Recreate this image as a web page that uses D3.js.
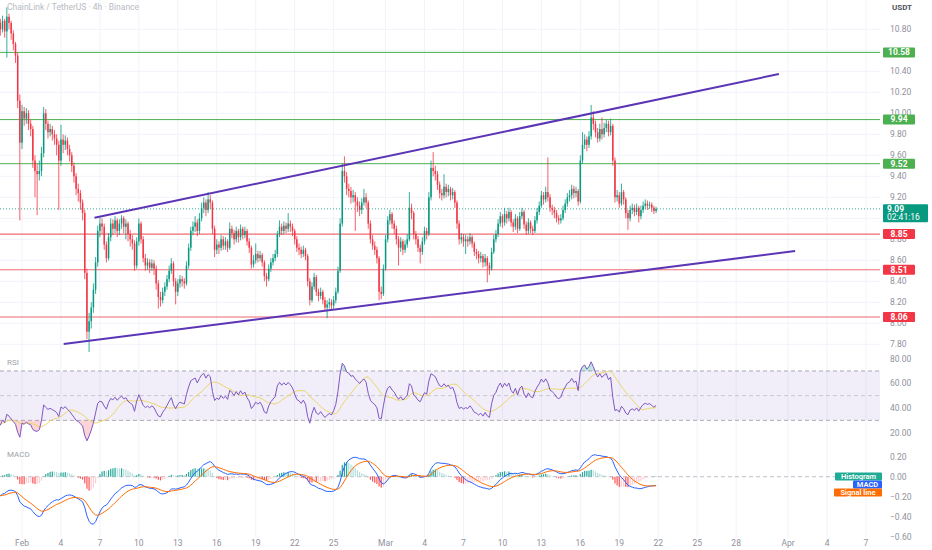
<!DOCTYPE html>
<html>
<head>
<meta charset="utf-8">
<script src="https://cdn.jsdelivr.net/npm/d3@7"></script>
<style>
  body { margin: 0; background: #fff; }
  svg { display: block; font-family: Roboto, "Liberation Sans", sans-serif; }
</style>
</head>
<body>
<svg id="chart" width="932" height="550"></svg>
<script>
// LINK/USDT 4h candles, first bar Jan 30 04:00
// open of each bar = close of the bar before (24/7 market)
const firstCandle = Date.UTC(2026, 0, 30, 4);
const firstOpen = 10.82;

const closes = [
  10.86,10.80,10.88,10.78,10.92,10.86,10.76,10.66,10.55,10.12,
  9.72,10.02,9.95,10.00,9.90,9.85,9.55,9.45,9.42,9.45,
  9.62,10.00,9.90,9.82,9.85,9.80,9.76,9.70,9.55,9.75,
  9.70,9.74,9.66,9.60,9.50,9.40,9.28,9.24,9.15,9.05,
  8.48,7.92,8.02,8.15,8.32,8.58,8.88,8.95,8.92,8.75,
  8.62,8.82,8.95,8.90,8.98,8.88,8.95,9.00,8.92,8.95,
  8.85,8.80,8.76,8.55,8.78,8.95,8.80,8.62,8.55,8.58,
  8.53,8.57,8.52,8.38,8.25,8.22,8.30,8.35,8.42,8.50,
  8.57,8.40,8.30,8.38,8.42,8.40,8.38,8.55,8.72,8.88,
  8.92,8.96,8.88,9.00,9.10,9.15,9.08,9.18,9.15,8.90,
  8.70,8.75,8.72,8.80,8.74,8.78,8.72,8.90,8.86,8.80,
  8.88,8.82,8.90,8.84,8.88,8.78,8.72,8.56,8.60,8.66,
  8.62,8.65,8.58,8.45,8.42,8.52,8.58,8.62,8.66,8.85,
  8.92,8.88,8.93,8.90,8.95,8.92,8.88,8.80,8.72,8.70,
  8.66,8.70,8.64,8.40,8.22,8.35,8.44,8.30,8.26,8.30,
  8.22,8.15,8.18,8.20,8.17,8.22,8.30,8.50,8.95,9.45,
  9.40,9.28,9.26,9.20,9.22,9.16,9.12,9.08,9.15,9.20,
  9.15,8.95,8.80,8.74,8.70,8.62,8.30,8.28,8.52,8.80,
  8.98,9.04,8.95,8.90,8.80,8.72,8.78,8.70,8.75,8.80,
  9.10,9.05,8.85,8.80,8.72,8.68,8.78,8.88,8.85,9.20,
  9.48,9.45,9.42,9.32,9.24,9.22,9.30,9.25,9.28,9.22,
  9.25,9.15,8.95,8.80,8.82,8.78,8.80,8.78,8.82,8.76,
  8.68,8.66,8.62,8.64,8.58,8.62,8.55,8.52,8.68,8.80,
  8.85,8.95,9.02,8.96,9.04,9.00,9.06,8.96,8.92,9.00,
  8.90,9.02,9.06,8.94,8.88,8.96,8.90,8.88,8.98,9.06,
  9.12,9.22,9.18,9.25,9.20,9.10,9.08,9.05,9.00,8.98,
  9.00,9.08,9.14,9.20,9.22,9.28,9.24,9.26,9.16,9.55,
  9.70,9.75,9.70,9.78,9.96,9.90,9.82,9.76,9.85,9.80,
  9.86,9.90,9.82,9.88,9.55,9.20,9.22,9.14,9.25,9.18,
  9.05,9.00,9.08,9.10,9.06,9.10,9.02,9.08,9.12,9.14,
  9.12,9.13,9.10,9.07,9.09
];

const highs = [
  10.92,10.90,10.93,10.90,11.01,10.95,10.88,10.79,10.68,10.58,
  10.18,10.08,10.06,10.05,10.03,9.94,9.88,9.60,9.52,9.55,
  9.68,10.06,10.04,9.93,9.90,9.88,9.84,9.80,9.74,9.89,
  9.80,9.79,9.77,9.70,9.63,9.53,9.43,9.33,9.27,9.18,
  9.08,8.52,8.10,8.20,8.38,8.63,8.93,9.01,9.00,8.95,
  8.78,8.86,9.00,8.99,9.02,9.00,8.99,9.03,9.02,8.99,
  8.97,8.89,8.84,8.79,8.82,9.00,8.97,8.83,8.66,8.62,
  8.61,8.61,8.60,8.55,8.41,8.30,8.34,8.39,8.46,8.55,
  8.62,8.59,8.43,8.42,8.46,8.45,8.43,8.59,8.76,8.92,
  8.97,9.02,8.99,9.05,9.15,9.20,9.18,9.25,9.22,9.17,
  8.93,8.80,8.78,8.84,8.83,8.82,8.80,8.96,8.93,8.89,
  8.92,8.90,8.94,8.92,8.92,8.90,8.81,8.74,8.65,8.76,
  8.69,8.69,8.67,8.60,8.48,8.56,8.62,8.66,8.70,8.88,
  8.98,8.95,8.97,8.96,9.05,8.98,8.95,8.90,8.83,8.76,
  8.73,8.74,8.72,8.66,8.43,8.39,8.48,8.46,8.33,8.34,
  8.32,8.25,8.22,8.24,8.23,8.26,8.34,8.54,9.00,9.52,
  9.59,9.44,9.33,9.30,9.27,9.25,9.20,9.16,9.19,9.28,
  9.24,9.17,8.98,8.84,8.78,8.73,8.64,8.35,8.56,8.84,
  9.02,9.08,9.06,8.98,8.93,8.83,8.82,8.80,8.79,8.85,
  9.25,9.14,9.07,8.88,8.83,8.75,8.82,8.92,8.91,9.25,
  9.55,9.63,9.50,9.45,9.35,9.28,9.42,9.33,9.32,9.30,
  9.29,9.27,9.17,8.98,8.86,8.85,8.84,8.83,8.86,8.84,
  8.78,8.71,8.69,8.68,8.66,8.66,8.64,8.58,8.72,8.84,
  8.89,8.99,9.06,9.04,9.10,9.07,9.10,9.08,8.99,9.04,
  9.02,9.06,9.10,9.08,8.97,9.00,8.98,8.93,9.02,9.10,
  9.16,9.26,9.25,9.30,9.58,9.23,9.13,9.11,9.08,9.03,
  9.04,9.12,9.18,9.24,9.27,9.32,9.31,9.30,9.28,9.60,
  9.82,9.80,9.78,9.83,10.08,10.02,9.93,9.86,9.90,9.96,
  9.91,9.94,9.93,9.95,9.90,9.58,9.27,9.25,9.33,9.27,
  9.20,9.08,9.12,9.14,9.13,9.14,9.12,9.12,9.16,9.18,
  9.17,9.16,9.15,9.12,9.11
];

const lows = [
  10.76,10.74,10.77,10.72,10.53,10.80,10.70,10.60,10.48,10.05,
  8.98,9.66,9.88,9.90,9.84,9.78,9.48,9.20,9.03,9.36,
  9.40,9.58,9.84,9.76,9.78,9.74,9.70,9.60,9.08,9.50,
  9.62,9.65,9.60,9.54,9.44,9.34,9.22,9.16,9.08,8.98,
  8.42,7.85,7.72,7.95,8.10,8.28,8.54,8.82,8.85,8.70,
  8.58,8.60,8.78,8.84,8.86,8.82,8.84,8.90,8.86,8.80,
  8.78,8.73,8.70,8.50,8.52,8.74,8.76,8.58,8.50,8.51,
  8.48,8.50,8.46,8.32,8.14,8.16,8.19,8.26,8.32,8.39,
  8.47,8.35,8.18,8.26,8.34,8.35,8.33,8.36,8.52,8.69,
  8.84,8.87,8.83,8.85,8.97,9.05,9.02,9.05,9.09,8.85,
  8.63,8.66,8.66,8.69,8.70,8.70,8.68,8.70,8.81,8.75,
  8.77,8.77,8.79,8.80,8.81,8.74,8.67,8.52,8.53,8.57,
  8.58,8.59,8.54,8.40,8.35,8.40,8.49,8.55,8.59,8.63,
  8.82,8.84,8.85,8.86,8.87,8.87,8.83,8.75,8.68,8.65,
  8.62,8.63,8.60,8.35,8.17,8.20,8.32,8.26,8.21,8.23,
  8.18,8.12,8.05,8.14,8.13,8.14,8.19,8.28,8.48,8.92,
  9.34,9.22,9.20,9.14,9.15,8.88,9.06,9.02,9.04,9.12,
  9.10,8.90,8.76,8.70,8.65,8.57,8.22,8.23,8.26,8.50,
  8.77,8.94,8.90,8.85,8.75,8.55,8.68,8.65,8.67,8.72,
  8.78,8.99,8.80,8.75,8.68,8.57,8.65,8.75,8.80,8.83,
  9.17,9.40,9.36,9.27,9.19,9.17,9.19,9.20,9.21,9.17,
  9.18,9.10,8.90,8.75,8.76,8.73,8.66,8.73,8.75,8.72,
  8.64,8.61,8.57,8.58,8.53,8.54,8.39,8.46,8.50,8.66,
  8.77,8.82,8.92,8.91,8.93,8.95,8.97,8.92,8.87,8.89,
  8.86,8.88,8.99,8.90,8.84,8.85,8.86,8.84,8.86,8.95,
  9.03,9.10,9.13,9.15,9.16,9.06,9.03,9.00,8.96,8.94,
  8.95,8.98,9.05,9.11,9.16,9.18,9.19,9.20,9.12,9.14,
  9.52,9.66,9.64,9.67,9.75,9.84,9.77,9.72,9.73,9.75,
  9.77,9.82,9.78,9.79,9.50,9.15,9.16,9.10,9.12,9.13,
  9.00,8.89,8.97,9.04,9.02,9.03,8.96,8.99,9.05,9.09,
  9.08,9.09,9.06,9.04,9.05
];

// horizontal levels drawn on the chart
const resistanceLevels = [10.58, 9.94, 9.52];
const supportLevels = [8.85, 8.51, 8.06];
const lastPrice = 9.09;
const countdown = "02:41:16";

// channel lines: [time, price] end points
const upperChannel = [[Date.UTC(2026, 1, 6, 14), 9.006], [Date.UTC(2026, 2, 31, 7), 10.374]];
const lowerChannel = [[Date.UTC(2026, 1, 4, 5), 7.803], [Date.UTC(2026, 3, 1, 13), 8.689]];

// indicator state at the first bar (RSI ~27, MACD -0.20 / signal -0.19 on the chart)
const rsiSeed = [0.03, 0.08];     // avg gain, avg loss
const macdSeed = [-0.20, -0.19];  // macd, signal

// axis ticks
const priceTicks = [10.8, 10.4, 10.2, 10.0, 9.8, 9.6, 9.4, 9.2, 8.8, 8.6, 8.4, 8.2, 8.0, 7.8];
const rsiTicks = [80, 60, 40, 20];
const macdTicks = [0.2, 0, -0.2, -0.4, -0.6];
const dateTicks = [[1,1],[1,4],[1,7],[1,10],[1,13],[1,16],[1,19],[1,22],[1,25],[2,1],[2,4],
                   [2,7],[2,10],[2,13],[2,16],[2,19],[2,22],[2,25],[2,28],[3,1],[3,4],[3,7]];
const dateLabels = ["Feb","4","7","10","13","16","19","22","25","Mar","4",
                    "7","10","13","16","19","22","25","28","Apr","4","7"];


const svg = d3.select("#chart");
const plotRight = 880;
const up = "#089981", down = "#f23645";
const axisColor = "#8f929b", gridColor = "#f0f3fa";

const x = d3.scaleUtc()
  .domain([Date.UTC(2026, 1, 1), Date.UTC(2026, 3, 7)])
  .range([22, 866]);
const yPrice = d3.scaleLinear().domain([8, 10]).range([323.3, 113.3]);
const yRsi = d3.scaleLinear().domain([20, 80]).range([432.7, 358.6]);
const yMacd = d3.scaleLinear().domain([-0.6, 0.2]).range([536.7, 456.7]);

const panes = { price: [0, 352], rsi: [353, 446], macd: [447, 538] };

const defs = svg.append("defs");
Object.entries(panes).forEach(([k, [y0, y1]]) => {
  defs.append("clipPath").attr("id", "clip-" + k)
    .append("rect").attr("x", 0).attr("y", y0).attr("width", plotRight).attr("height", y1 - y0);
});

// build bars
const bars = closes.map((c, i) => ({
  t: new Date(firstCandle + i * 4 * 3600 * 1000),
  o: i === 0 ? firstOpen : closes[i - 1],
  h: highs[i], l: lows[i], c: c
}));

// RSI 14 (Wilder) + SMA 14 of RSI
let avgGain = rsiSeed[0], avgLoss = rsiSeed[1];
bars.forEach((b, i) => {
  if (i > 0) {
    const ch = b.c - bars[i - 1].c;
    avgGain = (avgGain * 13 + Math.max(ch, 0)) / 14;
    avgLoss = (avgLoss * 13 + Math.max(-ch, 0)) / 14;
  }
  b.rsi = 100 - 100 / (1 + avgGain / avgLoss);
});
bars.forEach((b, i) => {
  b.rsiMa = d3.mean(bars.slice(Math.max(0, i - 13), i + 1), d => d.rsi);
});

// MACD 12/26/9
let ema12 = bars[0].c, ema26 = bars[0].c - macdSeed[0], signal = macdSeed[1];
bars.forEach((b, i) => {
  if (i > 0) {
    ema12 += (b.c - ema12) * 2 / 13;
    ema26 += (b.c - ema26) * 2 / 27;
  }
  b.macd = ema12 - ema26;
  if (i > 0) signal += (b.macd - signal) * 2 / 10;
  b.signal = signal;
  b.hist = b.macd - b.signal;
});

// ---------- grid ----------
const grid = svg.append("g");
grid.selectAll("line.v")
  .data(dateTicks)
  .join("line")
    .attr("x1", d => x(Date.UTC(2026, d[0], d[1])))
    .attr("x2", d => x(Date.UTC(2026, d[0], d[1])))
    .attr("y1", 0).attr("y2", 538)
    .attr("stroke", gridColor);
grid.selectAll("line.hp")
  .data(d3.range(7.8, 10.9, 0.2))
  .join("line")
    .attr("x1", 0).attr("x2", plotRight)
    .attr("y1", d => yPrice(d)).attr("y2", d => yPrice(d))
    .attr("stroke", gridColor);

// ---------- price pane ----------
const pricePane = svg.append("g").attr("clip-path", "url(#clip-price)");

const levelGroup = pricePane.append("g");
levelGroup.selectAll("line.res")
  .data(resistanceLevels)
  .join("line")
    .attr("x1", 0).attr("x2", plotRight)
    .attr("y1", d => yPrice(d)).attr("y2", d => yPrice(d))
    .attr("stroke", "#4caf50").attr("stroke-width", 1);
levelGroup.selectAll("line.sup")
  .data(supportLevels)
  .join("line")
    .attr("x1", 0).attr("x2", plotRight)
    .attr("y1", d => yPrice(d)).attr("y2", d => yPrice(d))
    .attr("stroke", "#f06a73").attr("stroke-width", 1.2);

pricePane.append("line")
  .attr("x1", 0).attr("x2", plotRight)
  .attr("y1", yPrice(lastPrice)).attr("y2", yPrice(lastPrice))
  .attr("stroke", up).attr("stroke-width", 1)
  .attr("stroke-dasharray", "1,2").attr("opacity", 0.8);

const candle = pricePane.append("g")
  .selectAll("g")
  .data(bars)
  .join("g")
    .attr("stroke", d => d.c >= d.o ? up : down)
    .attr("fill", d => d.c >= d.o ? up : down);
candle.append("line")
  .attr("x1", d => x(d.t)).attr("x2", d => x(d.t))
  .attr("y1", d => yPrice(d.h)).attr("y2", d => yPrice(d.l))
  .attr("stroke-width", 0.8);
candle.append("rect")
  .attr("x", d => x(d.t) - 0.75)
  .attr("width", 1.5)
  .attr("y", d => yPrice(Math.max(d.o, d.c)))
  .attr("height", d => Math.max(0.8, Math.abs(yPrice(d.o) - yPrice(d.c))))
  .attr("stroke", "none");

const channelLine = d3.line().x(d => x(d[0])).y(d => yPrice(d[1]));
pricePane.selectAll("path.channel")
  .data([upperChannel, lowerChannel])
  .join("path")
    .attr("d", channelLine)
    .attr("fill", "none")
    .attr("stroke", "#5b35b5")
    .attr("stroke-width", 2);

svg.append("text")
  .attr("x", 7).attr("y", 10)
  .attr("font-size", 8.5).attr("fill", "#b8bbc3")
  .text("ChainLink / TetherUS · 4h · Binance");

// ---------- RSI pane ----------
const rsiPane = svg.append("g").attr("clip-path", "url(#clip-rsi)");
rsiPane.append("rect")
  .attr("x", 0).attr("width", plotRight)
  .attr("y", yRsi(70)).attr("height", yRsi(30) - yRsi(70))
  .attr("fill", "rgba(126,87,194,0.1)");

// overbought / oversold fills
defs.append("clipPath").attr("id", "clip-ob")
  .append("rect").attr("x", 0).attr("y", panes.rsi[0]).attr("width", plotRight).attr("height", yRsi(70) - panes.rsi[0]);
defs.append("clipPath").attr("id", "clip-os")
  .append("rect").attr("x", 0).attr("y", yRsi(30)).attr("width", plotRight).attr("height", panes.rsi[1] - yRsi(30));
rsiPane.append("path")
  .datum(bars)
  .attr("clip-path", "url(#clip-ob)")
  .attr("fill", "rgba(8,153,129,0.25)")
  .attr("d", d3.area().x(d => x(d.t)).y0(yRsi(70)).y1(d => yRsi(d.rsi)));
rsiPane.append("path")
  .datum(bars)
  .attr("clip-path", "url(#clip-os)")
  .attr("fill", "rgba(242,54,69,0.22)")
  .attr("d", d3.area().x(d => x(d.t)).y0(yRsi(30)).y1(d => yRsi(d.rsi)));

rsiPane.selectAll("line.band")
  .data([70, 50, 30])
  .join("line")
    .attr("x1", 0).attr("x2", plotRight)
    .attr("y1", d => yRsi(d)).attr("y2", d => yRsi(d))
    .attr("stroke", "#9598a1")
    .attr("stroke-opacity", d => d === 50 ? 0.45 : 0.8)
    .attr("stroke-dasharray", "4,3");

rsiPane.append("path")
  .datum(bars)
  .attr("fill", "none")
  .attr("stroke", "#ecd56a").attr("stroke-width", 1)
  .attr("d", d3.line().x(d => x(d.t)).y(d => yRsi(d.rsiMa)));
rsiPane.append("path")
  .datum(bars)
  .attr("fill", "none")
  .attr("stroke", "#7e57c2").attr("stroke-width", 1)
  .attr("d", d3.line().x(d => x(d.t)).y(d => yRsi(d.rsi)));

svg.append("text")
  .attr("x", 7).attr("y", 365)
  .attr("font-size", 8).attr("fill", "#a0a3ab")
  .text("RSI");

// ---------- MACD pane ----------
const macdPane = svg.append("g").attr("clip-path", "url(#clip-macd)");
macdPane.append("line")
  .attr("x1", 0).attr("x2", plotRight)
  .attr("y1", yMacd(0)).attr("y2", yMacd(0))
  .attr("stroke", "#9598a1").attr("stroke-opacity", 0.6)
  .attr("stroke-dasharray", "4,3");

const histColor = (d, i) => {
  const prev = i > 0 ? bars[i - 1].hist : d.hist;
  if (d.hist >= 0) return d.hist >= prev ? "#26a69a" : "#b2dfdb";
  return d.hist <= prev ? "#ff5252" : "#ffcdd2";
};
macdPane.selectAll("rect.hist")
  .data(bars)
  .join("rect")
    .attr("x", d => x(d.t) - 0.6)
    .attr("width", 1.2)
    .attr("y", d => yMacd(Math.max(0, d.hist)))
    .attr("height", d => Math.abs(yMacd(d.hist) - yMacd(0)))
    .attr("fill", histColor);

macdPane.append("path")
  .datum(bars)
  .attr("fill", "none")
  .attr("stroke", "#2962ff").attr("stroke-width", 1)
  .attr("d", d3.line().x(d => x(d.t)).y(d => yMacd(d.macd)));
macdPane.append("path")
  .datum(bars)
  .attr("fill", "none")
  .attr("stroke", "#ff6d00").attr("stroke-width", 1)
  .attr("d", d3.line().x(d => x(d.t)).y(d => yMacd(d.signal)));

svg.append("text")
  .attr("x", 7).attr("y", 457)
  .attr("font-size", 8).attr("fill", "#a0a3ab")
  .text("MACD");

const legend = [
  { label: "Histogram", color: "#22ab94", w: 47 },
  { label: "MACD", color: "#2962ff", w: 29 },
  { label: "Signal line", color: "#ff6d00", w: 48 }
];
const leg = svg.append("g")
  .selectAll("g")
  .data(legend)
  .join("g")
    .attr("transform", (d, i) => `translate(${882 - d.w},${472.5 + i * 8})`);
leg.append("rect")
  .attr("width", d => d.w).attr("height", 8)
  .attr("rx", 1)
  .attr("fill", d => d.color);
leg.append("text")
  .attr("x", d => d.w / 2).attr("y", 6.3)
  .attr("text-anchor", "middle")
  .attr("font-size", 7.5).attr("font-weight", 600)
  .attr("fill", "#fff")
  .text(d => d.label);

// ---------- right axis ----------
const axis = svg.append("g").attr("font-size", 8.5).attr("fill", axisColor);
axis.selectAll("text.p")
  .data(priceTicks)
  .join("text")
    .attr("x", 890).attr("y", d => yPrice(d) + 3)
    .text(d => d.toFixed(2));
axis.selectAll("text.r")
  .data(rsiTicks)
  .join("text")
    .attr("x", 890).attr("y", d => yRsi(d) + 3)
    .text(d => d.toFixed(2));
axis.selectAll("text.m")
  .data(macdTicks)
  .join("text")
    .attr("x", 890).attr("y", d => yMacd(d) + 3)
    .text(d => d3.format(".2f")(d).replace("-", "−"));

svg.append("text")
  .attr("x", 902).attr("y", 10)
  .attr("text-anchor", "middle")
  .attr("font-size", 8).attr("font-weight", 700)
  .attr("fill", "#50535e")
  .text("USDT");

const levelLabels = resistanceLevels.map(v => ({ v, color: "#4caf50" }))
  .concat(supportLevels.map(v => ({ v, color: "#f23645" })));
const lab = svg.append("g")
  .selectAll("g")
  .data(levelLabels)
  .join("g")
    .attr("transform", d => `translate(883,${yPrice(d.v) - 5})`);
lab.append("rect")
  .attr("width", 32).attr("height", 10).attr("rx", 1)
  .attr("fill", d => d.color);
lab.append("text")
  .attr("x", 16).attr("y", 7.8)
  .attr("text-anchor", "middle")
  .attr("font-size", 8.5).attr("font-weight", 700)
  .attr("fill", "#fff")
  .text(d => d.v.toFixed(2));

const last = svg.append("g").attr("transform", `translate(883,${yPrice(lastPrice) - 4.5})`);
last.append("rect").attr("width", 45).attr("height", 18).attr("rx", 1).attr("fill", up);
last.append("text")
  .attr("x", 4).attr("y", 7.5)
  .attr("font-size", 8.5).attr("font-weight", 700).attr("fill", "#fff")
  .text(lastPrice.toFixed(2));
last.append("text")
  .attr("x", 4).attr("y", 15.5)
  .attr("font-size", 8.5).attr("fill", "#fff")
  .text(countdown);

// ---------- time axis ----------
svg.append("g")
  .selectAll("text")
  .data(dateTicks)
  .join("text")
    .attr("x", d => x(Date.UTC(2026, d[0], d[1])))
    .attr("y", 545.5)
    .attr("text-anchor", "middle")
    .attr("font-size", 8.5)
    .attr("fill", axisColor)
    .text((d, i) => dateLabels[i]);
</script>
</body>
</html>
